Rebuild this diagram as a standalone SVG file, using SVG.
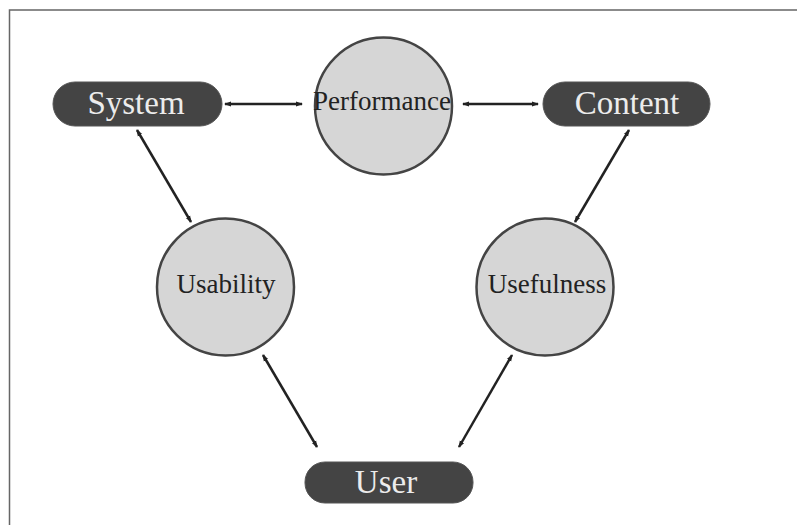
<svg xmlns="http://www.w3.org/2000/svg" width="797" height="525" viewBox="0 0 797 525">
<style>
.pill{fill:#444;stroke:#555;stroke-width:1}
.pt{font-family:"Liberation Serif","Times New Roman",serif;font-size:33px;fill:#ececec;text-anchor:middle}
.circ{fill:#d6d6d6;stroke:#444;stroke-width:2.5}
.ct{font-family:"Liberation Serif","Times New Roman",serif;font-size:27px;fill:#222;text-anchor:middle}
.conn{stroke:#222;stroke-width:2.5;fill:none;marker-start:url(#ah);marker-end:url(#ah)}
</style>
<defs>
<marker id="ah" viewBox="0 0 7 6" refX="6" refY="3" markerWidth="7" markerHeight="6" markerUnits="userSpaceOnUse" orient="auto-start-reverse">
<path d="M0,0.5 L7,3 L0,5.5 z" fill="#222"/>
</marker>
</defs>
<rect width="797" height="525" fill="#fff"/>
<path d="M9.5,525 V10 H797" fill="none" stroke="#666" stroke-width="1.5"/>
<g id="connectors">
<line class="conn" x1="225" y1="104" x2="302" y2="104"/>
<line class="conn" x1="463" y1="104" x2="538" y2="104"/>
<line class="conn" x1="137" y1="130" x2="191" y2="222"/>
<line class="conn" x1="629" y1="130" x2="575" y2="222"/>
<line class="conn" x1="263" y1="355" x2="317" y2="447"/>
<line class="conn" x1="512" y1="355" x2="459" y2="447"/>
</g>
<g id="system">
<rect class="pill" x="53" y="82" width="169" height="44" rx="22"/>
<text class="pt" x="136" y="114">System</text>
</g>
<g id="content">
<rect class="pill" x="543" y="82" width="167" height="44" rx="22"/>
<text class="pt" x="627" y="114">Content</text>
</g>
<g id="user">
<rect class="pill" x="305" y="462" width="168" height="41" rx="20"/>
<text class="pt" x="386" y="493">User</text>
</g>
<g id="performance">
<circle class="circ" cx="383.5" cy="106" r="68.5"/>
<text class="ct" x="382" y="110">Performance</text>
</g>
<g id="usability">
<circle class="circ" cx="225.5" cy="287" r="68.5"/>
<text class="ct" x="226" y="293">Usability</text>
</g>
<g id="usefulness">
<circle class="circ" cx="545" cy="287" r="68.5"/>
<text class="ct" x="547" y="293">Usefulness</text>
</g>
</svg>
